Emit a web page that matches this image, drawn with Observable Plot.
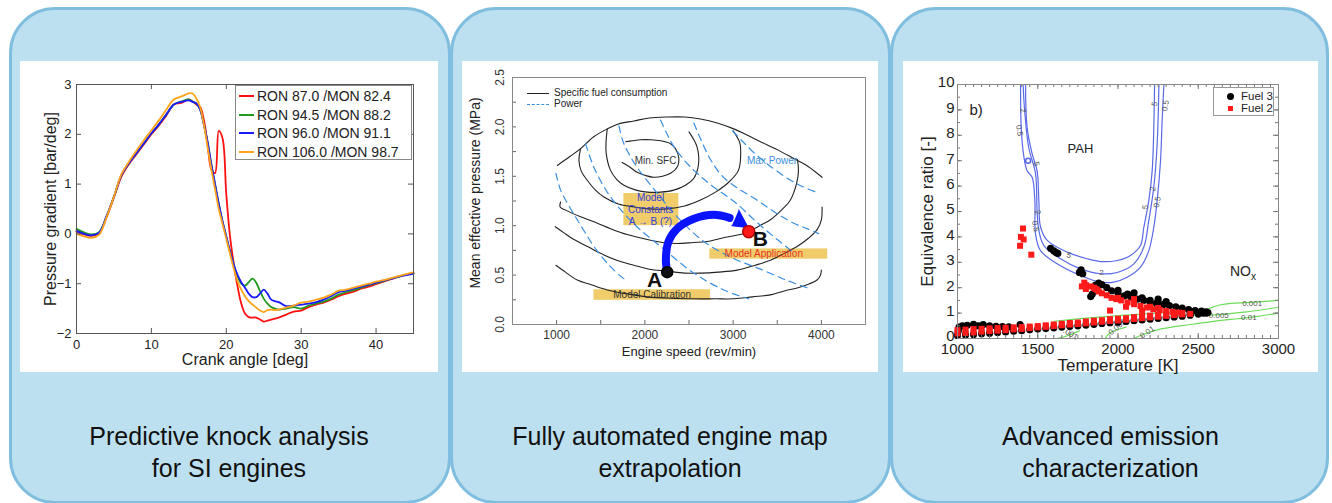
<!DOCTYPE html>
<html><head><meta charset="utf-8">
<script src="https://cdn.jsdelivr.net/npm/d3@7"></script>
<script src="https://cdn.jsdelivr.net/npm/@observablehq/plot@0.6"></script>
<style>
body{margin:0;width:1332px;height:503px;overflow:hidden;background:#fff;font-family:"Liberation Sans",Arial,sans-serif;position:relative}
.panel{position:absolute;top:7px;height:497px;background:#BDE0F0;border:3px solid #80BEDF;border-radius:46px;box-sizing:border-box}
.white{position:absolute;background:#fff;overflow:visible}
.cap{position:absolute;text-align:center;font-size:25px;line-height:32px;color:#111}
.lg{position:absolute;background:#fff;box-sizing:border-box}
.lg div{position:absolute;white-space:nowrap}
.sw{position:absolute}
</style></head>
<body>
<div class="panel" style="left:9px;width:442px"></div>
<div class="panel" style="left:450px;width:441px"></div>
<div class="panel" style="left:890px;width:439px"></div>
<div class="white" id="c1" style="left:20px;top:61px;width:418px;height:311px"></div>
<div class="white" id="c2" style="left:462px;top:61px;width:416px;height:311px"></div>
<div class="white" id="c3" style="left:903px;top:61px;width:415px;height:311px"></div>
<div class="cap" style="left:20px;top:420px;width:418px">Predictive knock analysis<br>for SI engines</div>
<div class="cap" style="left:462px;top:420px;width:416px">Fully automated engine map<br>extrapolation</div>
<div class="cap" style="left:903px;top:420px;width:415px">Advanced emission<br>characterization</div>
<div id="lg1" class="lg" style="left:235px;top:85px;width:177px;height:75px;border:1px solid #888"></div>
<div id="lg2" class="lg" style="left:524px;top:86px;width:140px;height:26px;background:transparent"></div>
<div id="lg3" class="lg" style="left:1213px;top:87px;width:61px;height:29px;border:1px solid #999"></div>
<script>
// ---------- Panel 1 data: pressure gradient vs crank angle ----------
const crankAngle = [0,1,2,3,4,5,6,7,8,9,10,11,12,13,14,15,15.5,16,16.5,17,17.5,18,18.5,19,19.5,20,20.5,21,21.5,22,22.5,23,23.5,24,24.5,25,25.5,26,26.5,27,28,29,30,31,32,33,34,35,36,37,38,39,40,41,42,43,44,45];
const ron87 = [0.05,-0.01,-0.04,0.01,0.33,0.73,1.15,1.4,1.6,1.8,2.0,2.18,2.38,2.6,2.63,2.7,2.66,2.6,2.55,2.3,1.8,1.3,1.22,2.07,1.92,0.8,-0.05,-0.6,-1.05,-1.4,-1.6,-1.67,-1.68,-1.68,-1.72,-1.76,-1.74,-1.72,-1.7,-1.68,-1.62,-1.56,-1.54,-1.47,-1.42,-1.38,-1.32,-1.25,-1.2,-1.16,-1.1,-1.06,-1.01,-0.96,-0.91,-0.86,-0.82,-0.79];
const ron945 = [0.1,0.03,-0.01,0.03,0.35,0.75,1.18,1.42,1.62,1.82,2.02,2.2,2.4,2.6,2.66,2.7,2.66,2.62,2.5,2.2,1.85,1.4,1.0,0.6,0.25,-0.05,-0.35,-0.62,-0.85,-1.0,-1.04,-0.97,-0.9,-0.98,-1.15,-1.3,-1.4,-1.47,-1.5,-1.52,-1.5,-1.47,-1.5,-1.44,-1.4,-1.36,-1.3,-1.22,-1.17,-1.13,-1.08,-1.03,-0.99,-0.95,-0.9,-0.86,-0.82,-0.79];
const ron960 = [0.06,0.0,-0.03,0.02,0.35,0.75,1.18,1.42,1.62,1.82,2.02,2.2,2.4,2.6,2.65,2.68,2.65,2.62,2.5,2.2,1.85,1.4,1.0,0.6,0.25,-0.05,-0.35,-0.62,-0.82,-0.97,-1.08,-1.2,-1.27,-1.27,-1.2,-1.12,-1.2,-1.32,-1.35,-1.37,-1.45,-1.44,-1.42,-1.4,-1.37,-1.32,-1.25,-1.17,-1.14,-1.1,-1.06,-1.02,-0.98,-0.94,-0.9,-0.86,-0.83,-0.8];
const ron1060 = [0.0,-0.05,-0.08,-0.02,0.33,0.75,1.2,1.45,1.67,1.88,2.08,2.28,2.5,2.7,2.76,2.82,2.82,2.72,2.55,2.2,1.75,1.3,0.9,0.5,0.2,-0.1,-0.4,-0.7,-0.95,-1.12,-1.25,-1.35,-1.42,-1.48,-1.54,-1.57,-1.53,-1.52,-1.53,-1.52,-1.48,-1.44,-1.38,-1.36,-1.32,-1.28,-1.22,-1.14,-1.12,-1.08,-1.04,-1.0,-0.96,-0.93,-0.89,-0.85,-0.81,-0.77];
const fuelNames = ["RON 87.0 /MON 82.4","RON 94.5 /MON 88.2","RON 96.0 /MON 91.1","RON 106.0 /MON 98.7"];
const fuelColors = ["#ff1010","#1f9a1f","#1a1aff","#ffa31a"];
const angleTicks = [0,10,20,30,40];
const gradTicks = [-2,-1,0,1,2,3];

// ---------- Panel 2 data: engine map ----------
const sfcContours = [
  [[1008,1.61],[1150,1.7],[1272,1.78],[1420,1.9],[1574,1.98],[1700,2.03],[1875,2.06],[2050,2.09],[2253,2.1],[2450,2.1],[2630,2.08],[2820,2.04],[3008,1.98],[3150,1.92],[3309,1.85],[3500,1.77],[3687,1.68],[3850,1.6],[4008,1.49]],
  [[1272,1.78],[1253,1.66],[1280,1.55],[1347,1.46],[1440,1.36],[1536,1.29],[1700,1.22],[1875,1.19],[2050,1.17],[2253,1.17],[2450,1.2],[2630,1.26],[2800,1.34],[2950,1.44],[3060,1.56],[3085,1.7],[3075,1.84],[3000,1.96]],
  [[1574,1.98],[1560,1.85],[1562,1.73],[1611,1.56],[1680,1.47],[1762,1.41],[1900,1.36],[2026,1.34],[2180,1.34],[2328,1.36],[2460,1.41],[2555,1.48],[2600,1.58],[2611,1.69],[2590,1.8],[2555,1.87],[2500,1.95]],
  [[1781,1.85],[1860,1.86],[1951,1.87],[2070,1.87],[2177,1.86],[2290,1.83],[2347,1.78],[2385,1.68],[2370,1.6],[2291,1.53],[2200,1.5],[2102,1.49],[2000,1.51],[1913,1.54],[1820,1.6],[1743,1.64]],
  [[1045,1.24],[1040,1.19],[1120,1.15],[1272,1.09],[1450,1.03],[1611,0.97],[1800,0.91],[2026,0.86],[2200,0.83],[2366,0.82],[2550,0.83],[2706,0.84],[2900,0.88],[3121,0.92],[3300,1.0],[3423,1.06],[3550,1.16],[3649,1.26],[3720,1.43],[3740,1.55],[3730,1.67]],
  [[985,0.99],[1080,0.93],[1196,0.86],[1350,0.79],[1498,0.72],[1680,0.65],[1875,0.6],[2050,0.56],[2253,0.54],[2450,0.52],[2630,0.52],[2830,0.53],[3045,0.55],[3250,0.6],[3423,0.65],[3580,0.72],[3725,0.79],[3850,0.87],[3951,0.96],[4000,1.06],[4008,1.19]],
  [[992,0.6],[1100,0.53],[1234,0.45],[1400,0.4],[1574,0.35],[1800,0.31],[2026,0.28],[2300,0.265],[2555,0.26],[2800,0.26],[3008,0.26],[3220,0.28],[3423,0.3],[3580,0.34],[3725,0.37],[3860,0.41],[3951,0.45],[3990,0.5],[4000,0.55]]
];
const powerContours = [
  [[992,1.53],[1045,1.36],[1140,1.2],[1234,1.06],[1330,0.92],[1423,0.79],[1574,0.62],[1725,0.49],[1800,0.44]],
  [[1328,1.83],[1423,1.59],[1611,1.29],[1875,1.02],[2177,0.79],[2555,0.52],[2894,0.35],[3175,0.26]],
  [[1706,2.01],[1762,1.83],[1913,1.59],[2140,1.33],[2366,1.09],[2668,0.84],[3000,0.67],[3311,0.56],[3600,0.45],[3844,0.37]],
  [[2177,2.07],[2250,1.93],[2328,1.8],[2440,1.67],[2555,1.56],[2670,1.47],[2781,1.39],[2910,1.31],[3045,1.22],[3250,1.05],[3500,0.86],[3700,0.72]],
  [[2555,2.04],[2640,1.86],[2750,1.66],[2880,1.5],[3050,1.38],[3234,1.28],[3400,1.18],[3536,1.1],[3700,1.02],[3838,0.97],[3970,0.92]],
  [[2994,1.96],[3100,1.86],[3234,1.74],[3423,1.6],[3651,1.46],[3800,1.39],[3970,1.33]]
];
const arrowBody = [[2253,0.53],[2238,0.66],[2268,0.84],[2366,0.97],[2555,1.07],[2781,1.11],[2960,1.08]];
const arrowHead = [[3064,1.16],[3172,0.98],[2985,1.0]];
const pointA = [[2253,0.53]];
const pointB = [[3177,0.94]];
const mapBoxes = [
  {x1:1762,x2:2385,y1:1.0,y2:1.326},
  {x1:2736,x2:4072,y1:0.661,y2:0.765},
  {x1:1423,x2:2743,y1:0.245,y2:0.352}
];
const mapNotes = [
  {x:2064,y:1.28,t:"Model",c:"#3340dd"},
  {x:2064,y:1.16,t:"Constants",c:"#3340dd"},
  {x:2064,y:1.04,t:"A \u2192 B (?)",c:"#3340dd"},
  {x:3347,y:0.712,t:"Model Application",c:"#e8321e"},
  {x:2083,y:0.297,t:"Model Calibration",c:"#333"},
  {x:2121,y:1.66,t:"Min. SFC",c:"#333"},
  {x:3441,y:1.66,t:"Max Power",c:"#3a8fe0"}
];
const pointLabels = [{x:2109,y:0.45,t:"A"},{x:3309,y:0.865,t:"B"}];
const speedTicks = [1000,2000,3000,4000];
const speedMinor = [1000,1500,2000,2500,3000,3500,4000];
const mepTicks = [0,0.5,1,1.5,2,2.5];
const mepMinor = [0,0.25,0.5,0.75,1,1.25,1.5,1.75,2,2.25,2.5];

// ---------- Panel 3 data: emission map ----------
const pahContours = [
  {level:"0.5", pts:[[1393,10],[1397,8.3],[1414,7.14],[1434,6.6],[1465,6.35],[1482,5.43],[1486,4.12],[1517,3.46],[1621,2.94],[1766,2.48],[1891,2.22],[1974,2.22],[2057,2.41],[2140,2.81],[2192,3.46],[2223,4.38],[2244,5.43],[2265,7.0],[2275,8.58],[2286,10]]},
  {level:"2", pts:[[1409,10],[1418,9.0],[1444,7.5],[1486,6.5],[1496,5.0],[1507,4.25],[1538,3.66],[1642,3.14],[1766,2.74],[1891,2.55],[1995,2.6],[2099,2.94],[2161,3.6],[2192,4.65],[2223,5.96],[2244,7.66],[2255,10]]},
  {level:"5", pts:[[1424,10],[1434,8.3],[1465,7.27],[1496,6.6],[1507,5.4],[1517,4.4],[1559,3.86],[1683,3.4],[1808,3.14],[1891,3.03],[1995,3.07],[2078,3.27],[2140,3.66],[2161,4.38],[2192,5.43],[2213,6.61],[2223,8.3],[2228,10]]}
];
const noxContours = [
  [[1600,0.68],[1800,0.8],[2000,0.9],[2300,1.02],[2550,1.15],[2620,1.3],[2700,1.38],[2850,1.43],[3000,1.5]],
  [[2450,0.92],[2600,0.93],[2800,1.05],[3000,1.23]],
  [[2100,0],[2140,0.12],[2250,0.35],[2450,0.55],[2700,0.75],[2850,0.85],[3000,1.0]],
  [[1620,0],[1680,0.1],[1760,0.3]],
  [[1920,0],[1950,0.22],[2050,0.45]]
];
const contourLabels = [
  {x:1409,y:8.98,t:"2",r:80},{x:1386,y:8.19,t:"0.5",r:80},{x:1492,y:6.88,t:"5",r:80},
  {x:1500,y:4.97,t:"2",r:80},{x:1486,y:4.42,t:"0.5",r:80},{x:1694,y:3.27,t:"5",r:20},
  {x:1897,y:2.59,t:"2",r:0},{x:2171,y:5.17,t:"5",r:-80},{x:2217,y:5.89,t:"2",r:-80},
  {x:2244,y:5.37,t:"0.5",r:-80},{x:2228,y:9.24,t:"5",r:-80},{x:2296,y:9.17,t:"0.5",r:-80},
  {x:2836,y:1.39,t:"0.001",r:0},{x:2628,y:0.91,t:"0.005",r:0},{x:2815,y:0.84,t:"0.01",r:0},
  {x:2182,y:0.25,t:"0.01",r:-35},{x:1995,y:0.45,t:"0.005",r:-40},{x:1704,y:0.18,t:".001",r:30}
];
const fuel3 = [
  [1000,0.12],[1050,0.14],[1100,0.16],[1150,0.19],[1200,0.21],[1250,0.24],[1300,0.26],[1350,0.29],[1400,0.31],[1450,0.34],[1500,0.37],[1550,0.39],[1600,0.42],[1650,0.45],[1700,0.48],[1750,0.5],[1800,0.53],[1850,0.56],[1900,0.59],[1950,0.62],[2000,0.64],[2050,0.67],[2100,0.7],[2150,0.73],[2200,0.76],[2250,0.79],[2300,0.82],[2350,0.85],[2400,0.88],[2450,0.92],[2500,0.96],[2550,1.0],
  [1005,0.3],[1010,0.45],[1030,0.5],[1060,0.52],[1100,0.56],[1130,0.5],[1160,0.55],[1200,0.5],[1240,0.48],[1280,0.47],[1320,0.46],[1390,0.55],
  [2550,1.05],[2520,1.08],[2480,1.1],[2440,1.14],[2400,1.2],[2360,1.25],[2320,1.3],[2280,1.33],[2240,1.38],[2200,1.42],[2160,1.5],[2120,1.55],[2080,1.62],[2040,1.68],[2000,1.78],[1960,1.88],[1930,2.0],[1900,2.12],[1880,2.18],[1860,2.1],[1830,1.65],[1840,1.75],[2100,1.8],[2000,1.9],[1770,2.7],[1760,2.6],[1780,2.55],[1580,3.55],[1600,3.45],[1615,3.38],[1625,3.35],
  [2060,1.75],[2150,1.6],[2250,1.55],[2300,1.45],[2200,1.5],[2530,1.0],[2560,1.02],[2500,1.0],[2450,0.98]
];
const fuel2 = [
  [1000,0.2],[1050,0.22],[1100,0.24],[1150,0.27],[1200,0.29],[1250,0.31],[1300,0.33],[1350,0.36],[1400,0.38],[1450,0.41],[1500,0.44],[1550,0.46],[1600,0.49],[1650,0.52],[1700,0.55],[1750,0.57],[1800,0.6],[1850,0.63],[1900,0.66],[1950,0.69],[2000,0.71],[2050,0.74],[2100,0.77],[2150,0.8],[2200,0.83],[2250,0.86],[2300,0.89],[2350,0.92],[2400,0.95],[2450,0.97],
  [1000,0.33],[1050,0.35],[1100,0.37],[1150,0.38],[1200,0.4],[1250,0.41],[1300,0.42],[1350,0.44],[1400,0.45],[1450,0.47],[1500,0.49],[1550,0.52],[1600,0.55],[1650,0.58],[1700,0.61],[1750,0.63],[1800,0.67],[1850,0.7],[1900,0.72],[1950,0.76],[2000,0.78],[2050,0.8],[2100,0.84],[2150,0.88],[2200,0.9],[2250,0.93],[2300,0.96],[2350,0.98],[2400,1.0],
  [1390,3.65],[1395,4.0],[1412,3.9],[1408,4.33],[1460,3.3],
  [1790,2.2],[1775,2.05],[1800,1.95],[1830,2.05],[1850,2.0],[1870,1.92],[1900,1.78],[1930,1.7],[1960,1.6],[1990,1.55],[2020,1.5],[2060,1.42],[2100,1.35],[2140,1.28],[2180,1.22],[2220,1.15],[2260,1.12],[2300,1.08],[2340,1.05],[2200,1.25],[2150,1.1],[2050,1.25],[1950,1.1],[2100,1.55],[2000,1.6],[1880,1.85],[1800,2.1],[1860,1.95],[2250,1.2],[2380,1.02]
];
const tempTicks = [1000,1500,2000,2500,3000];
const phiTicks = [0,1,2,3,4,5,6,7,8,9,10];
const regionNotes = [{x:1766,y:7.47,t:"PAH"}];

const F = "Liberation Sans, Arial, sans-serif";
const baseStyle = {fontFamily:F, background:"transparent", overflow:"visible", color:"#222"};
const pxy = {x:d=>d[0], y:d=>d[1]};
// inward tick helpers (length in px, inner plot size in px)
const inX = (vals, len, h, side, stroke) => Plot.tickX(vals, {x:d=>d, stroke, strokeWidth:1,
  insetTop: side==="bottom" ? h-len : 0, insetBottom: side==="top" ? h-len : 0});
const inY = (vals, len, w, side, stroke) => Plot.tickY(vals, {y:d=>d, stroke, strokeWidth:1,
  insetRight: side==="left" ? w-len : 0, insetLeft: side==="right" ? w-len : 0});

// ---------- Panel 1 ----------
const rows1 = fuelNames.flatMap((n,k) => crankAngle.map((a,i) => ({a, v:[ron87,ron945,ron960,ron1060][k][i], n})));
const W1 = 418-56-25, H1 = 311-23-39;
const p1 = Plot.plot({
  width:418, height:311, marginLeft:56, marginRight:25, marginTop:23, marginBottom:39,
  style:baseStyle,
  x:{domain:[0,45]}, y:{domain:[-2,3]},
  color:{domain:fuelNames, range:fuelColors},
  marks:[
    Plot.line(rows1, {x:"a", y:"v", z:"n", stroke:"n", strokeWidth:1.8, curve:"catmull-rom"}),
    inX(angleTicks, 5, H1, "bottom", "#555"), inX(angleTicks, 5, H1, "top", "#555"),
    inY(gradTicks, 5, W1, "left", "#555"), inY(gradTicks, 5, W1, "right", "#555"),
    Plot.frame({stroke:"#555"}),
    Plot.axisX({ticks:angleTicks, tickSize:0, tickPadding:6, fontSize:13, label:null, color:"#222", tickFormat:"d"}),
    Plot.axisY({ticks:gradTicks, tickSize:0, tickPadding:5, fontSize:13, label:null, color:"#222", tickFormat:"d"}),
    Plot.text(["Pressure gradient [bar/deg]"], {frameAnchor:"left", textAnchor:"middle", rotate:-90, dx:-26, fontSize:16, fill:"#222"}),
    Plot.text(["Crank angle [deg]"], {frameAnchor:"bottom", dy:31, fontSize:16, fill:"#222"})
  ]
});
document.getElementById("c1").append(p1);

// ---------- Panel 2 ----------
const W2 = 416-50-13, H2 = 311-16-48;
const p2 = Plot.plot({
  width:416, height:311, marginLeft:50, marginRight:13, marginTop:16, marginBottom:48,
  style:baseStyle,
  x:{domain:[500,4500]}, y:{domain:[0,2.5], axis:null},
  marks:[
    Plot.rect(mapBoxes, {x1:"x1", x2:"x2", y1:"y1", y2:"y2", fill:"#eec65a", fillOpacity:0.9}),
    ...sfcContours.map(c => Plot.line(c, {...pxy, stroke:"#222", strokeWidth:1.1, curve:"catmull-rom"})),
    ...powerContours.map(c => Plot.line(c, {...pxy, stroke:"#3a8fe0", strokeWidth:1.2, strokeDasharray:"7,5", curve:"catmull-rom"})),
    Plot.line(arrowBody, {...pxy, stroke:"#0a14ff", strokeWidth:8, curve:"catmull-rom"}),
    Plot.line(arrowHead, {...pxy, fill:"#0a14ff", stroke:"#0a14ff", strokeWidth:1}),
    Plot.dot(pointA, {...pxy, r:5.5, fill:"#111", stroke:"#000"}),
    Plot.dot(pointB, {...pxy, r:6, fill:"#ff1a1a", stroke:"#b00"}),
    Plot.text(mapNotes, {x:"x", y:"y", text:"t", fill:"c", fontSize:10}),
    Plot.text(pointLabels, {x:"x", y:"y", text:"t", fontSize:21, fontWeight:"bold", fill:"#111"}),
    inX(speedMinor, 4, H2, "bottom", "#666"),
    inY(mepMinor, 4, W2, "left", "#666"),
    Plot.frame({stroke:"#888"}),
    Plot.axisX({ticks:speedTicks, tickSize:0, tickPadding:6, fontSize:12, label:null, color:"#333", tickFormat:"d"}),
    Plot.text(mepTicks, {y:d=>d, frameAnchor:"left", textAnchor:"middle", dx:-12, rotate:-90, text:d=>d.toFixed(1), fontSize:12, fill:"#333"}),
    Plot.text(["Mean effective pressure (MPa)"], {frameAnchor:"left", textAnchor:"middle", rotate:-90, dx:-37, dy:-8, fontSize:14, fill:"#222"}),
    Plot.text(["Engine speed (rev/min)"], {frameAnchor:"bottom", dy:31, fontSize:13, fill:"#222"})
  ]
});
document.getElementById("c2").append(p2);

// ---------- Panel 3 ----------
const W3 = 415-54-40, H3 = 311-23-34;
const tMinor = d3.range(1000,3001,50), phiMinor = d3.range(0,10.01,0.5);
const p3 = Plot.plot({
  width:415, height:311, marginLeft:54, marginRight:40, marginTop:23, marginBottom:34,
  style:baseStyle,
  x:{domain:[1000,3000]}, y:{domain:[0,10]},
  marks:[
    ...pahContours.map(c => Plot.line(c.pts, {...pxy, stroke:"#5a6ae6", strokeWidth:1.2, curve:"catmull-rom"})),
    Plot.dot([[1440,7.0]], {...pxy, r:2.5, stroke:"#5a6ae6", fill:"none"}),
    ...noxContours.map(c => Plot.line(c, {...pxy, stroke:"#6ddc5a", strokeWidth:1.2, curve:"catmull-rom"})),
    Plot.text(contourLabels, {x:"x", y:"y", text:"t", rotate:"r", fill:"#555", fontSize:8}),
    Plot.dot(fuel3, {...pxy, r:3.6, fill:"#000", stroke:"none"}),
    Plot.dot(fuel2, {...pxy, r:3.4, symbol:"square", fill:"#ff1a1a", stroke:"none"}),
    Plot.text(regionNotes, {x:"x", y:"y", text:"t", fontSize:13, fill:"#222"}),
    Plot.text(["b)"], {frameAnchor:"top-left", dx:12, dy:20, fontSize:15, fill:"#222"}),
    inX(tempTicks, 5, H3, "bottom", "#777"), inX(tMinor, 3, H3, "bottom", "#777"),
    inX(tempTicks, 5, H3, "top", "#777"), inX(tMinor, 3, H3, "top", "#777"),
    inY(phiTicks, 5, W3, "left", "#777"), inY(phiMinor, 3, W3, "left", "#777"),
    inY(phiTicks, 5, W3, "right", "#777"), inY(phiMinor, 3, W3, "right", "#777"),
    Plot.frame({stroke:"#888"}),
    Plot.axisX({ticks:tempTicks, tickSize:0, tickPadding:5, fontSize:15, label:null, color:"#222", tickFormat:"d"}),
    Plot.axisY({ticks:phiTicks, tickSize:0, tickPadding:3, fontSize:15, label:null, color:"#222", tickFormat:"d", dy:-2}),
    Plot.text(["Equivalence ratio [-]"], {frameAnchor:"left", textAnchor:"middle", rotate:-90, dx:-30, fontSize:17, fill:"#222"}),
    Plot.text(["Temperature [K]"], {frameAnchor:"bottom", dy:32, fontSize:17, fill:"#222"})
  ]
});
document.getElementById("c3").append(p3);

// ---------- HTML legends ----------
const lg1 = document.getElementById("lg1");
fuelNames.forEach((n,i) => {
  const y = 10 + i*18.7;
  lg1.insertAdjacentHTML("beforeend",
    `<div class="sw" style="left:3px;top:${y-1}px;width:15px;height:2px;background:${fuelColors[i]}"></div>` +
    `<div style="left:21px;top:${y-8}px;font-size:14px;line-height:16px;color:#222">${n}</div>`);
});
const lg2 = document.getElementById("lg2");
lg2.insertAdjacentHTML("beforeend",
  `<div class="sw" style="left:3px;top:7px;width:22px;height:0;border-top:1.3px solid #222"></div>` +
  `<div style="left:30px;top:1px;font-size:10px;line-height:12px;color:#222">Specific fuel consumption</div>` +
  `<div class="sw" style="left:3px;top:18px;width:22px;height:0;border-top:1.3px dashed #3a8fe0"></div>` +
  `<div style="left:30px;top:12px;font-size:10px;line-height:12px;color:#222">Power</div>`);
const lg3 = document.getElementById("lg3");
lg3.insertAdjacentHTML("beforeend",
  `<div class="sw" style="left:13px;top:5px;width:7px;height:7px;border-radius:50%;background:#000"></div>` +
  `<div style="left:27px;top:2px;font-size:11.5px;line-height:13px;color:#222">Fuel 3</div>` +
  `<div class="sw" style="left:14px;top:18px;width:5px;height:5px;background:#ff1a1a"></div>` +
  `<div style="left:27px;top:14px;font-size:11.5px;line-height:13px;color:#222">Fuel 2</div>`);
document.body.insertAdjacentHTML("beforeend",
  `<div style="position:absolute;left:1230px;top:263px;font-size:14px;color:#222">NO<sub style="font-size:10px">x</sub></div>`);
</script>
</body></html>
